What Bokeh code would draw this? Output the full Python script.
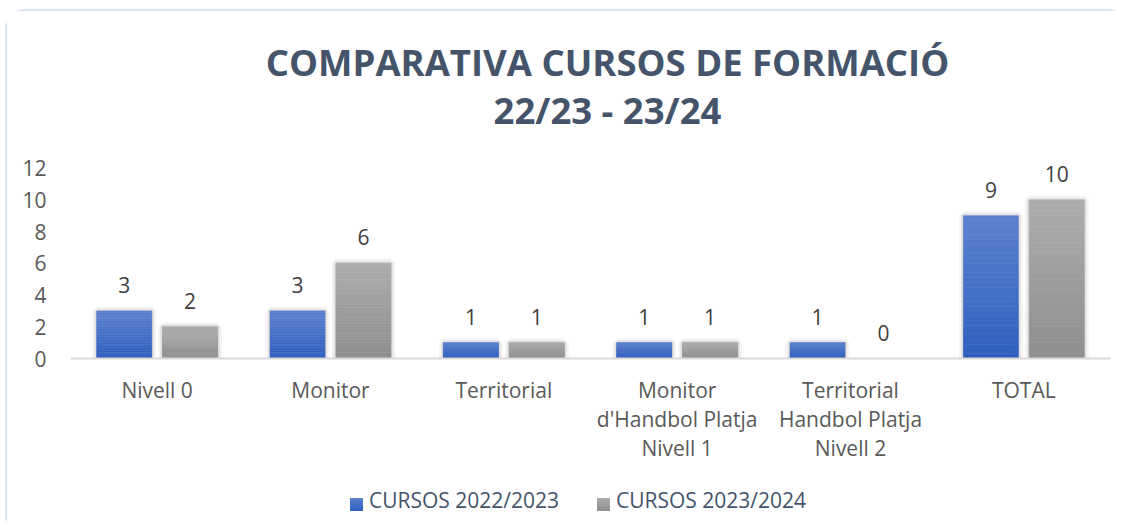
from bokeh.plotting import figure
from bokeh.models import ColumnDataSource, Div, FactorRange
from bokeh.layouts import column
from bokeh.transform import dodge
from bokeh.core.properties import value
from bokeh.embed import file_html
from bokeh.resources import INLINE

categories = ["Nivell 0", "Monitor", "Territorial",
              "Monitor\nd'Handbol Platja\nNivell 1",
              "Territorial\nHandbol Platja\nNivell 2", "TOTAL"]
cursos_2022_2023 = [3, 3, 1, 1, 1, 9]
cursos_2023_2024 = [2, 6, 1, 1, 0, 10]
series_names = ["CURSOS 2022/2023", "CURSOS 2023/2024"]
y_ticks = [0, 2, 4, 6, 8, 10, 12]
title_lines = ["COMPARATIVA CURSOS DE FORMACIÓ", "22/23 - 23/24"]

FONT = "Open Sans"
BLUE_TOP, BLUE_BOT = (92, 130, 206), (46, 94, 190)
GRAY_TOP, GRAY_BOT = (172, 172, 172), (143, 143, 143)

YMAX = 12.8
FW, FH = 1040, 203
p = figure(frame_width=FW, frame_height=FH, x_range=FactorRange(*categories), y_range=(0, YMAX),
           output_backend="svg", toolbar_location=None, title=None,
           min_border_left=63, min_border_right=16, min_border_top=0, min_border_bottom=0)
p.outline_line_color = None
p.background_fill_color = "white"
p.border_fill_color = "white"
p.xgrid.grid_line_color = None
p.ygrid.grid_line_color = None


def lerp(c0, c1, t):
    return "#%02x%02x%02x" % tuple(int(round(a + (b - a) * t)) for a, b in zip(c0, c1))


N = 30
offsets = [-0.19, 0.19]
BW = 0.317
grads = [(BLUE_BOT, BLUE_TOP), (GRAY_BOT, GRAY_TOP)]
data_series = [cursos_2022_2023, cursos_2023_2024]

for vals, off, (cb, ct) in zip(data_series, offsets, grads):
    nz = [(c, v) for c, v in zip(categories, vals) if v > 0]
    sh = ColumnDataSource(dict(x=[c for c, _ in nz], top=[v for _, v in nz]))
    for lw, a in [(9, 0.04), (5, 0.06), (2, 0.08)]:
        p.vbar(x=dodge("x", off, range=p.x_range), top="top", bottom=0, width=BW, source=sh,
               fill_color=None, line_color="#000000", line_alpha=a, line_width=lw)
    xs, bots, tops, cols = [], [], [], []
    for c, v in nz:
        for k in range(N):
            xs.append(c)
            bots.append(v * k / N)
            tops.append(v * (k + 1) / N)
            cols.append(lerp(cb, ct, (k + 0.5) / N))
    src = ColumnDataSource(dict(x=xs, bottom=bots, top=tops, color=cols))
    p.vbar(x=dodge("x", off, range=p.x_range), bottom="bottom", top="top", width=BW,
           source=src, fill_color="color", line_color="color", line_width=0.6)
    lab = ColumnDataSource(dict(x=categories, y=vals, t=[str(v) for v in vals]))
    p.text(x=dodge("x", off, range=p.x_range), y="y", text="t", source=lab,
           text_align="center", text_baseline="alphabetic", y_offset=-26,
           text_font=value(FONT), text_font_size="21px", text_color="#404040")

p.yaxis.ticker = y_ticks
p.yaxis.axis_line_color = None
p.yaxis.major_tick_line_color = None
p.yaxis.minor_tick_line_color = None
p.yaxis.major_label_standoff = 18
p.yaxis.major_label_text_font = FONT
p.yaxis.major_label_text_font_size = "21px"
p.yaxis.major_label_text_color = "#595959"

p.xaxis.axis_line_color = "#d9d9d9"
p.xaxis.axis_line_width = 2
p.xaxis.major_tick_line_color = None
p.xaxis.minor_tick_line_color = None
p.xaxis.major_label_standoff = 11
p.xaxis.major_label_text_font = FONT
p.xaxis.major_label_text_font_size = "21px"
p.xaxis.major_label_text_color = "#595959"
p.xaxis.major_label_text_align = "center"
p.xaxis.major_label_text_line_height = 1.05
p.x_range.range_padding = 0
p.x_range.group_padding = 0

title_html = (
    '<div style="box-sizing:border-box;width:1119px;padding-left:82px;padding-top:27px;'
    'text-align:center;font-family:\'Open Sans\';font-weight:bold;font-size:36.5px;'
    'line-height:48px;color:#44546a;white-space:nowrap;">'
    + "<br>".join(title_lines) + "</div>")
title_div = Div(text=title_html, width=1119, height=144, margin=0,
                styles={"background-color": "white"})


def rgb(c):
    return "#%02x%02x%02x" % c


legend_items = []
for name, (cb, ct), sw_left, tx_left in zip(series_names, grads, [343, 590], [362, 609]):
    legend_items.append(
        f'<span style="position:absolute;left:{sw_left}px;top:33px;width:13px;height:13px;'
        f'background:linear-gradient({rgb(ct)},{rgb(cb)});"></span>'
        f'<span style="position:absolute;left:{tx_left}px;top:21px;line-height:28px;'
        f'white-space:nowrap;">{name}</span>')
legend_html = ('<div style="position:relative;width:1119px;height:70px;font-family:\'Open Sans\';'
               'font-size:21px;color:#44546a;">' + "".join(legend_items) + "</div>")
legend_div = Div(text=legend_html, width=1119, height=70, margin=0,
                 styles={"background-color": "white"})

layout = column(title_div, p, legend_div, spacing=0,
                styles={"border": "2px solid #dae3f3", "border-right-color": "transparent",
                        "border-bottom-width": "0px", "border-radius": "20px",
                        "margin-left": "5px", "margin-top": "9px",
                        "background-color": "white"})

open("out.html", "w").write(file_html(layout, INLINE))
